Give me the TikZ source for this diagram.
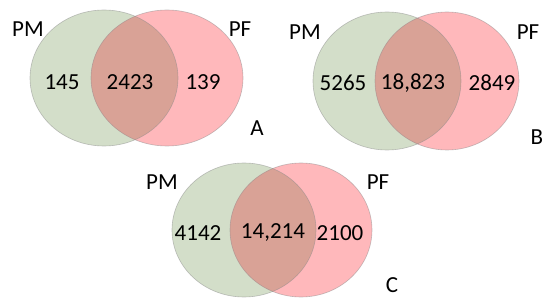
\documentclass[tikz,border=0pt]{standalone}
\usepackage{fontspec}
\setmainfont{Carlito}
\definecolor{gfill}{HTML}{D3DEC9}
\definecolor{rfill}{HTML}{FFB8BB}
\definecolor{ofill}{HTML}{D9A296}
\definecolor{edge}{HTML}{8A8A8A}
\begin{document}
\begin{tikzpicture}[x=1pt,y=-1pt,
  lbl/.style={font=\fontsize{23}{25}\selectfont, text=black, inner sep=0pt},
  outline/.style={draw=edge, draw opacity=0.5, line width=0.6pt}]
\useasboundingbox (0,0) rectangle (550,307);
\fill[white] (0,0) rectangle (550,307);
% ---------- A ----------
\fill[gfill] (104,78) ellipse [x radius=74, y radius=68];
\fill[rfill] (167,78) ellipse [x radius=76, y radius=68];
\begin{scope}
  \clip (104,78) ellipse [x radius=74, y radius=68];
  \fill[ofill] (167,78) ellipse [x radius=76, y radius=68];
\end{scope}
\draw[outline] (104,78) ellipse [x radius=74, y radius=68];
\draw[outline] (167,78) ellipse [x radius=76, y radius=68];
\node[lbl] (apm) at (28,29) {PM};
\node[lbl] (apf) at (240,29) {PF};
\node[lbl] (a1) at (62,82) {145};
\node[lbl] (a2) at (130,82) {2423};
\node[lbl] (a3) at (203,82) {139};
\node[lbl] (at) at (257,128) {A};
% ---------- B ----------
\fill[gfill] (387,81) ellipse [x radius=74, y radius=69];
\fill[rfill] (447,81) ellipse [x radius=72, y radius=69];
\begin{scope}
  \clip (387,81) ellipse [x radius=74, y radius=69];
  \fill[ofill] (447,81) ellipse [x radius=72, y radius=69];
\end{scope}
\draw[outline] (387,81) ellipse [x radius=74, y radius=69];
\draw[outline] (447,81) ellipse [x radius=72, y radius=69];
\node[lbl] (bpm) at (305,32) {PM};
\node[lbl] (bpf) at (528,32) {PF};
\node[lbl] (b1) at (343,83) {5265};
\node[lbl] (b2) at (413,83) {18,823};
\node[lbl] (b3) at (492,83) {2849};
\node[lbl] (bt) at (537,137) {B};
% ---------- C ----------
\fill[gfill] (244,230) ellipse [x radius=72, y radius=67];
\fill[rfill] (301,230) ellipse [x radius=71, y radius=67];
\begin{scope}
  \clip (244,230) ellipse [x radius=72, y radius=67];
  \fill[ofill] (301,230) ellipse [x radius=71, y radius=67];
\end{scope}
\draw[outline] (244,230) ellipse [x radius=72, y radius=67];
\draw[outline] (301,230) ellipse [x radius=71, y radius=67];
\node[lbl] (cpm) at (162,182) {PM};
\node[lbl] (cpf) at (378,182) {PF};
\node[lbl] (c1) at (198,233) {4142};
\node[lbl] (c2) at (273,233) {14,214};
\node[lbl] (c3) at (340,233) {2100};
\node[lbl] (ct) at (392,285) {C};
\end{tikzpicture}
\end{document}
